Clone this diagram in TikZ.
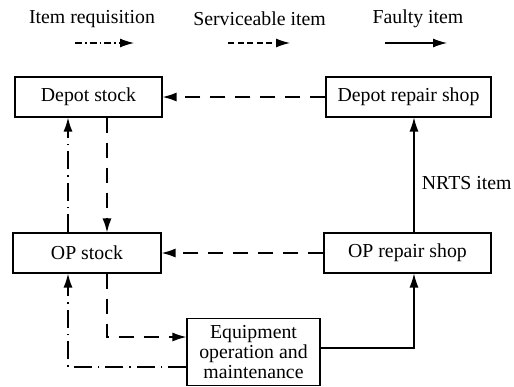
\documentclass[tikz,border=0pt]{standalone}
\usepackage{fontspec}
\setmainfont{Liberation Serif}
\usetikzlibrary{arrows.meta}

\begin{document}
\begin{tikzpicture}[x=1pt,y=-1pt,
  font=\fontsize{19.8pt}{20pt}\selectfont,
  box/.style={draw, line width=1.1pt, minimum height=40pt, inner sep=2pt},
  tip/.style={-{Latex[length=14pt,width=9pt]}},
  serv/.style={tip, line width=1.4pt, dash pattern=on 15pt off 10pt},
  req/.style={tip, line width=1.4pt, dash pattern=on 18pt off 6pt on 1.5pt off 6pt},
  faulty/.style={tip, line width=1.2pt},
  lserv/.style={tip, line width=1.2pt, dash pattern=on 6pt off 3.5pt},
  lreq/.style={tip, line width=1.2pt, dash pattern=on 7pt off 3pt on 1.5pt off 3pt}]
\useasboundingbox (0,0) rectangle (514,386);

% legend
\node (treq) at (92,19) {Item requisition};
\node (tserv) at (259.5,19) {Serviceable item};
\node (tfault) at (418,19) {Faulty item};
\coordinate (req a) at (75,43);   \coordinate (req b) at (134,43);
\coordinate (serv a) at (228,43); \coordinate (serv b) at (290,43);
\coordinate (fault a) at (385,43);\coordinate (fault b) at (447,43);
\draw[lreq] (req a) -- (req b);
\draw[lserv] (serv a) -- (serv b);
\draw[faulty] (fault a) -- (fault b);

% boxes
\node[box, minimum width=147pt] (dstock) at (88.5,97) {Depot stock};
\node[box, minimum width=165pt] (drepair) at (408.5,97) {Depot repair shop};
\node[box, minimum width=148pt] (opstock) at (87,253) {OP stock};
\node[box, minimum width=167pt] (oprepair) at (407.5,253) {OP repair shop};
\node[box, minimum width=133pt, minimum height=67pt, align=center,
  font=\fontsize{19.8pt}{19.8pt}\selectfont] (equip) at (253.5,352)
  {Equipment\\operation and\\maintenance};

\coordinate (xs) at (107,0);
\coordinate (xr) at (68,0);
\coordinate (xf) at (414,0);

% serviceable items
\draw[serv] (drepair.west) -- (dstock.east);
\draw[serv] (oprepair.west) -- (opstock.east);
\draw[serv] (dstock.south -| xs) -- (opstock.north -| xs);
\draw[serv] (opstock.south -| xs) |- ([yshift=15pt]equip.west);

% requisitions
\draw[req] (opstock.north -| xr) -- (dstock.south -| xr);
\draw[req] ([yshift=-15pt]equip.west) -| (opstock.south -| xr);

% faulty items
\draw[faulty] ([yshift=4pt]equip.east) -| (oprepair.south -| xf);
\draw[faulty] (oprepair.north -| xf) -- (drepair.south -| xf)
  node[pos=0.43, right=4pt] {NRTS item};
\end{tikzpicture}
\end{document}
